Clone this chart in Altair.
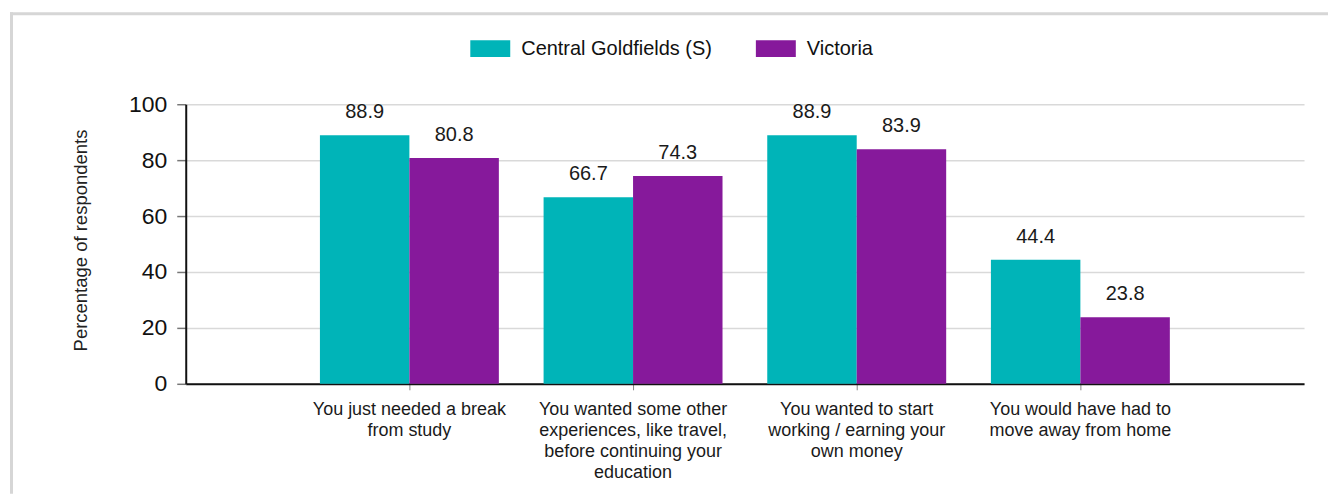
import altair as alt
import pandas as pd

categories = [
    ["You just needed a break", "from study"],
    ["You wanted some other", "experiences, like travel,", "before continuing your", "education"],
    ["You wanted to start", "working / earning your", "own money"],
    ["You would have had to", "move away from home"],
]
series = ["Central Goldfields (S)", "Victoria"]
central = [88.9, 66.7, 88.9, 44.4]
victoria = [80.8, 74.3, 83.9, 23.8]
colors = ["#00b4b8", "#86199b"]
y_ticks = [0, 20, 40, 60, 80, 100]

cat_keys = ["|".join(c) for c in categories]
rows = []
for k, a, b in zip(cat_keys, central, victoria):
    rows.append({"category": k, "series": series[0], "value": a})
    rows.append({"category": k, "series": series[1], "value": b})
df = pd.DataFrame(rows)

FONT = "Liberation Sans"

x = alt.X(
    "category:N", sort=cat_keys, title=None,
    scale=alt.Scale(paddingInner=0.2, paddingOuter=0.6),
    axis=alt.Axis(
        labelExpr="split(datum.label, '|')", labelAngle=0, labelFontSize=18,
        labelLineHeight=21, labelPadding=11, labelColor="#1a1a1a", labelLimit=400,
        labelFont=FONT, tickSize=6, tickColor="#888888", tickWidth=1,
        domainColor="#111111", domainWidth=2, grid=False,
    ),
)
xo = alt.XOffset("series:N", sort=series, scale=alt.Scale(paddingInner=0, paddingOuter=0))
y = alt.Y(
    "value:Q",
    scale=alt.Scale(domain=[0, 100], nice=False),
    axis=alt.Axis(
        values=y_ticks, title="Percentage of respondents", titleFont=FONT,
        titleFontSize=18.5, titleFontWeight="normal", titleColor="#222222",
        titleX=-105, titleY=136, titleAngle=270, titleAlign="center", titleBaseline="middle",
        labelFont=FONT, labelFontSize=23, labelColor="#111111", labelPadding=10,
        tickSize=9, tickColor="#777777", tickWidth=1.5,
        domainColor="#111111", domainWidth=2,
        grid=True, gridColor="#d9d9d9", gridWidth=1.5,
    ),
)

color = alt.Color(
    "series:N",
    scale=alt.Scale(domain=series, range=colors),
    legend=alt.Legend(
        title=None, orient="none", legendX=285, legendY=-75.6, direction="horizontal",
        symbolType="M-1,-0.42H1V0.42H-1Z", symbolSize=1600, symbolStrokeWidth=0,
        labelFont=FONT, labelFontSize=20, labelColor="#111111", labelOffset=11,
        columnPadding=43, padding=0, labelLimit=400,
    ),
)

bars = alt.Chart(df).mark_bar().encode(x=x, xOffset=xo, y=y, color=color)
labels = alt.Chart(df).mark_text(
    dy=-17, baseline="alphabetic", fontSize=20, font=FONT, color="#1a1a1a"
).encode(x=x, xOffset=xo, y=y, text=alt.Text("value:Q", format=".1f"))

frame_df = pd.DataFrame({"k": [0]})
top_line = alt.Chart(frame_df).mark_rule(color="#d6d6d6", strokeWidth=3).encode(
    x=alt.value(-176), x2=alt.value(1144), y=alt.value(-90.5)
)
left_line = alt.Chart(frame_df).mark_rule(color="#d6d6d6", strokeWidth=3).encode(
    x=alt.value(-174.5), y=alt.value(-92), y2=alt.value(390)
)

chart = (
    alt.layer(top_line, left_line, bars, labels)
    .properties(width=1120, height=280, padding={"left": 0, "top": 2, "right": 0, "bottom": 0})
    .configure_view(strokeWidth=0)
)

chart.save("out.html", embed_options={"renderer": "svg", "actions": False})
